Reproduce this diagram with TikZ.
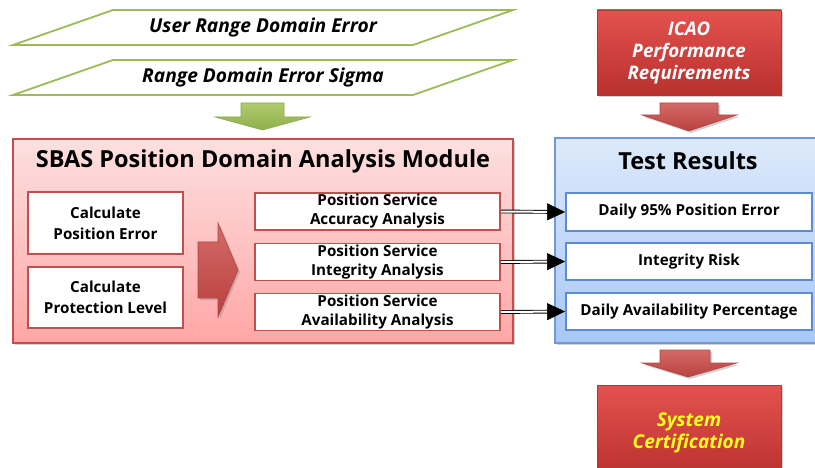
\documentclass[tikz,border=0pt]{standalone}
\usepackage{fontspec}
\setmainfont{Open Sans}
\usetikzlibrary{shadows,arrows.meta}
\definecolor{redborder}{HTML}{C0504D}
\definecolor{pinktop}{HTML}{FDE0E0}
\definecolor{pinkbot}{HTML}{FFA6A6}
\definecolor{bluetop}{HTML}{DDE9FB}
\definecolor{bluebot}{HTML}{A8C7F5}
\definecolor{blueborder}{HTML}{6F9AD3}
\definecolor{resborder}{HTML}{5B8CCF}
\definecolor{greenborder}{HTML}{9BBB59}
\definecolor{greentop}{HTML}{AFCB6E}
\definecolor{greenbot}{HTML}{8FB04A}
\definecolor{redtop}{HTML}{E4524F}
\definecolor{redbot}{HTML}{B8302D}
\definecolor{arrtop}{HTML}{D46A67}
\definecolor{arrbot}{HTML}{B9413E}
\definecolor{certyellow}{HTML}{FFFF1A}
\tikzset{
  px/.style={x=1pt,y=-1pt},
  shadowed/.style={drop shadow={opacity=0.35,shadow xshift=2pt,shadow yshift=-2pt}},
  module/.style={draw=redborder,line width=1.3pt,top color=pinktop,bottom color=pinkbot,shadowed,inner sep=0pt},
  results/.style={draw=blueborder,line width=1.3pt,top color=bluetop,bottom color=bluebot,shadowed,inner sep=0pt},
  redbox/.style={draw=redborder,line width=1.8pt,fill=white,inner sep=0pt,align=center,font=\fontsize{15.2}{21}\selectfont\bfseries},
  resbox/.style={draw=resborder,line width=1.8pt,fill=white,inner sep=0pt,align=center,font=\fontsize{15.2}{19}\selectfont\bfseries},
  bigtitle/.style={font=\fontsize{23.5}{27}\selectfont\bfseries,inner sep=0pt},
  para/.style={draw=greenborder,line width=1.8pt,fill=white},
  paratext/.style={font=\fontsize{19.2}{22}\selectfont\bfseries\itshape,inner sep=0pt},
  solidbox/.style={draw=redborder!80!black,line width=0.6pt,top color=redtop,bottom color=redbot,shadowed,inner sep=0pt,align=center},
  blockred/.style={draw=redborder!90!black,line width=0.6pt,top color=arrtop,bottom color=arrbot,shadowed},
  blockgreen/.style={draw=greenborder!90!black,line width=0.6pt,top color=greentop,bottom color=greenbot},
  dblshaft/.style={double=white,double distance=2pt,line width=0.9pt,shorten >=18pt},
  arrtip/.style={draw=black,line width=0.5pt,-{Triangle[length=18pt,width=17pt]},shorten <=47pt}
}
\begin{document}
\begin{tikzpicture}[px]
\useasboundingbox (0,0) rectangle (815,468);
\fill[white] (0,0) rectangle (815,468);

% input parallelograms
\draw[para] (113,10) -- (513,10) -- (413,45) -- (13,45) -- cycle;
\node[paratext] (in1) at (263,28) {User Range Domain Error};
\draw[para] (113,60) -- (513,60) -- (413,95) -- (13,95) -- cycle;
\node[paratext] (in2) at (263,78) {Range Domain Error Sigma};

% green block arrow
\draw[blockgreen] (241,103) -- (284,103) -- (284,117) -- (310,117) -- (262.5,130) -- (215,117) -- (241,117) -- cycle;

% module box
\node[module,minimum width=500pt,minimum height=204pt] (mod) at (263,241) {};
\node[bigtitle] (modt) at (263,161) {SBAS Position Domain Analysis Module};
\node[redbox,minimum width=155pt,minimum height=62pt] (cpe) at (105.5,223) {Calculate\\Position Error};
\node[redbox,minimum width=155pt,minimum height=61pt] (cpl) at (105.5,297.5) {Calculate\\Protection Level};
\draw[blockred] (198,242) -- (218,242) -- (218,223) -- (238,270) -- (218,317) -- (218,298) -- (198,298) -- cycle;
\node[redbox,minimum width=245pt,minimum height=37pt,font=\fontsize{15.2}{19}\selectfont\bfseries] (ps1) at (377.5,211.5) {Position Service\\Accuracy Analysis};
\node[redbox,minimum width=245pt,minimum height=37pt,font=\fontsize{15.2}{19}\selectfont\bfseries] (ps2) at (377.5,262) {Position Service\\Integrity Analysis};
\node[redbox,minimum width=245pt,minimum height=37pt,font=\fontsize{15.2}{19}\selectfont\bfseries] (ps3) at (377.5,312) {Position Service\\Availability Analysis};

% ICAO box and arrow
\node[solidbox,minimum width=184pt,minimum height=85pt,text=white,font=\fontsize{18.7}{22}\selectfont\bfseries\itshape] (icao) at (689,52.5) {ICAO\\Performance\\Requirements};
\draw[blockred] (660,103) -- (718,103) -- (718,115) -- (737,115) -- (689,131) -- (642,115) -- (660,115) -- cycle;

% results box
\node[results,minimum width=265pt,minimum height=205pt] (res) at (687.5,240.5) {};
\node[bigtitle] (rest) at (688,161) {Test Results};
\node[resbox,minimum width=246pt,minimum height=38pt] (r1) at (689,212) {Daily 95\% Position Error};
\node[resbox,minimum width=246pt,minimum height=37pt] (r2) at (689,261.5) {Integrity Risk};
\node[resbox,minimum width=246pt,minimum height=37pt] (r3) at (689,311.5) {Daily Availability Percentage};

% double arrows
\draw[dblshaft] (ps1.east) -- (r1.west);
\draw[arrtip] (ps1.east) -- (r1.west);
\draw[dblshaft] (ps2.east) -- (r2.west);
\draw[arrtip] (ps2.east) -- (r2.west);
\draw[dblshaft] (ps3.east) -- (r3.west);
\draw[arrtip] (ps3.east) -- (r3.west);

% bottom arrow and certification
\draw[blockred] (660,350) -- (710,350) -- (710,363) -- (737,363) -- (688,377) -- (642,363) -- (660,363) -- cycle;
\node[solidbox,minimum width=184pt,minimum height=95pt,text=certyellow,font=\fontsize{19}{22}\selectfont\bfseries\itshape] (cert) at (689,432.5) {System\\Certification};
\end{tikzpicture}
\end{document}
